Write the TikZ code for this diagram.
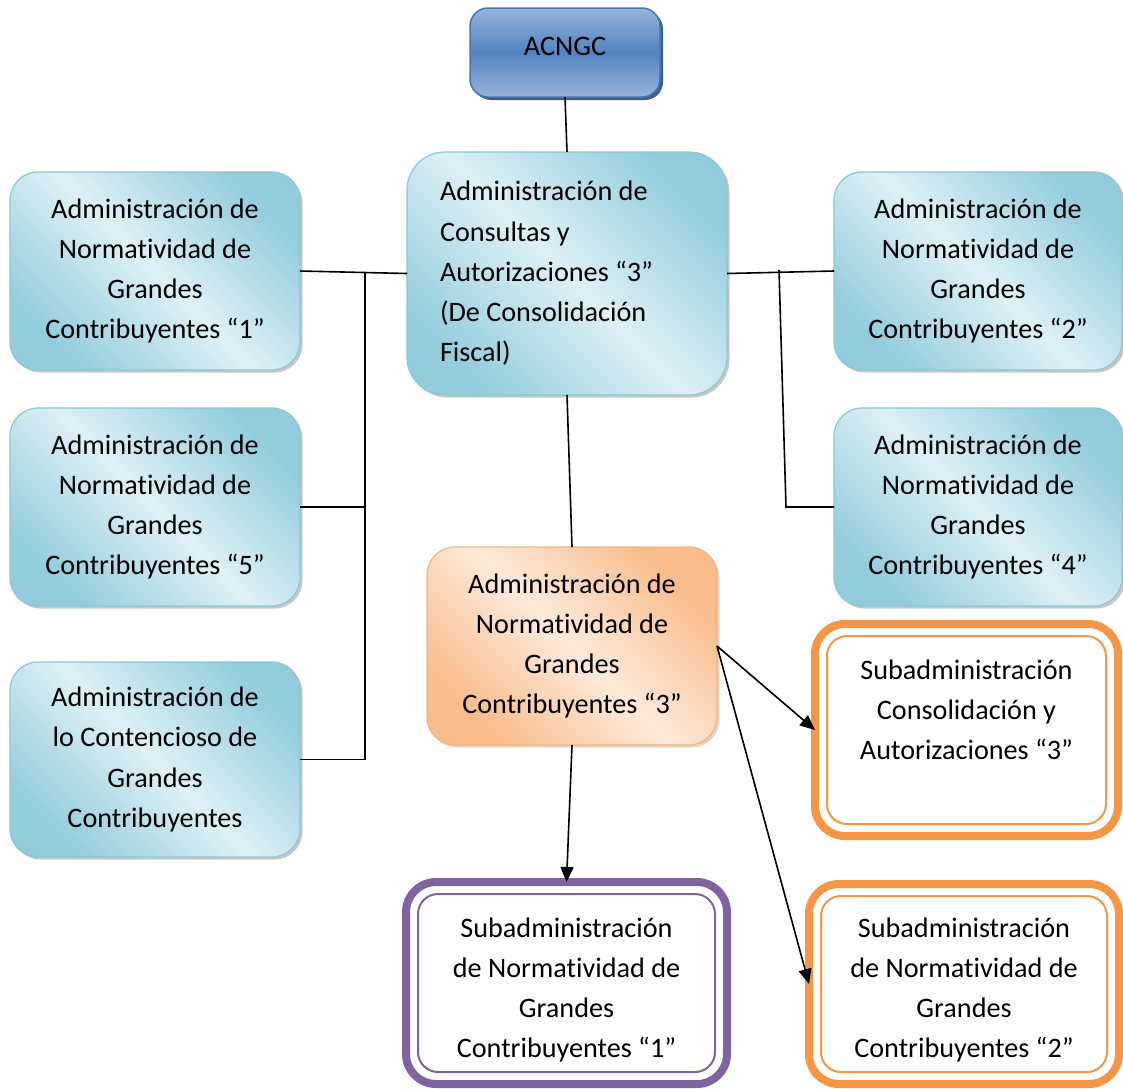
\documentclass[tikz,border=0pt]{standalone}
\usepackage{fontspec}
\setmainfont{Carlito}[Ligatures=NoCommon]
\usetikzlibrary{shadows,arrows.meta}

\definecolor{blueDark}{HTML}{93CDDD}
\definecolor{blueLight}{HTML}{DEF0F5}
\definecolor{blueEdge}{HTML}{8CC6D7}
\definecolor{orDark}{HTML}{F9BC8A}
\definecolor{orLight}{HTML}{FDEADB}
\definecolor{orEdge}{HTML}{F3B383}
\definecolor{topLight}{HTML}{97B3DA}
\definecolor{topMid}{HTML}{5283C0}
\definecolor{topEdge}{HTML}{4A76B0}
\definecolor{topShadow}{HTML}{2C4B78}
\definecolor{orangeLine}{HTML}{F79646}
\definecolor{purpleLine}{HTML}{8064A2}

\begin{document}
\begin{tikzpicture}[x=1pt,y=-1pt,
  font=\fontsize{28.2}{40.2}\selectfont,
  base/.style={align=center, inner sep=0pt, outer sep=0pt},
  bluebox/.style={base, rounded corners=28pt, draw=blueEdge, line width=1.2pt,
    top color=blueDark, bottom color=blueDark, middle color=blueLight, shading angle=-45,
    minimum width=290pt, minimum height=198pt,
    drop shadow={shadow xshift=2.5pt, shadow yshift=-2.5pt, fill=black!40, opacity=.55}},
  orbox/.style={base, rounded corners=28pt, draw=orEdge, line width=1.2pt,
    top color=orDark, bottom color=orDark, middle color=orLight, shading angle=-45,
    minimum width=290pt, minimum height=198pt,
    drop shadow={shadow xshift=2.5pt, shadow yshift=-2.5pt, fill=brown!60, opacity=.55}},
  topbox/.style={base, rounded corners=18pt, draw=topEdge, line width=1.5pt,
    top color=topLight, bottom color=topLight, middle color=topMid,
    minimum width=190pt, minimum height=89pt,
    drop shadow={shadow xshift=3pt, shadow yshift=-3pt, fill=topShadow, opacity=.9}},
  dblbox/.style={base, rounded corners=30pt, draw=#1, line width=8pt, fill=white},
  boxtext/.style={align=center, inner sep=0pt},
  link/.style={line width=1.6pt, draw=black},
  arr/.style={link, -{Triangle[length=15pt,width=13pt]}}
]
\useasboundingbox (0,0) rectangle (1123,1088);

% head of the chart
\node[topbox] (acn) at (565,52.5) {\raisebox{13pt}{ACNGC}};

% central administration
\node[bluebox, minimum width=320pt, minimum height=243pt, rounded corners=38pt,
      text width=254pt, align=flush left] (ct) at (567,273.5)
  {Administración de\\Consultas y\\Autorizaciones “3”\\(De Consolidación\\Fiscal)};

% left column
\node[bluebox] (l1) at (155,271)
  {Administración de\\Normatividad de\\Grandes\\Contribuyentes “1”};
\node[bluebox] (l5) at (155,507)
  {Administración de\\Normatividad de\\Grandes\\Contribuyentes “5”};
\node[bluebox, minimum height=195pt] (lc) at (155,759.5)
  {Administración de\\lo Contencioso de\\Grandes\\Contribuyentes};

% right column
\node[bluebox, minimum width=288pt] (r2) at (978,271)
  {Administración de\\Normatividad de\\Grandes\\Contribuyentes “2”};
\node[bluebox, minimum width=288pt] (r4) at (978,507)
  {Administración de\\Normatividad de\\Grandes\\Contribuyentes “4”};

% administration 3
\node[orbox] (or) at (572,646)
  {Administración de\\Normatividad de\\Grandes\\Contribuyentes “3”};

% sub-administrations
\node[dblbox=orangeLine, minimum width=303pt, minimum height=212pt] (sc) at (966.5,730)
  {Subadministración\\Consolidación y\\Autorizaciones “3”\\\mbox{}};
\node[dblbox=purpleLine, minimum width=321pt, minimum height=202pt,
      label={[boxtext, name=sp-text, yshift=-7pt]center:{Subadministración\\de Normatividad de\\Grandes\\Contribuyentes “1”}}]
  (sp) at (566.5,983) {};
\node[dblbox=orangeLine, minimum width=310pt, minimum height=200pt,
      label={[boxtext, name=so-text, yshift=-6pt]center:{Subadministración\\de Normatividad de\\Grandes\\Contribuyentes “2”}}]
  (so) at (964,984) {};

% inner rims of the double borders
\foreach \n/\c in {sc/orangeLine, sp/purpleLine, so/orangeLine}
  \draw[draw=\c, line width=2pt, rounded corners=20pt]
    ([shift={(12pt,-12pt)}]\n.north west) rectangle ([shift={(-12pt,12pt)}]\n.south east);

% connectors
\draw[link] (acn.south) -- (ct.north);
\draw[link] (l1.east) -- (ct.west);
\coordinate (jl) at (365,272);
\draw[link] (jl) |- (lc.east);
\draw[link] (jl |- l5.east) -- (l5.east);

\draw[link] (ct.east) -- (r2.west);
\coordinate (jr) at (779,270);
\coordinate (jr2) at (786,507);
\draw[link] (jr) -- (jr2) -- (r4.west);

\draw[link] (ct.south) -- (or.north);
\draw[arr] (or.south) -- (sp.north);
\draw[arr] (or.east) -- (sc.west);
\draw[arr] (or.east) -- (so.west);
\end{tikzpicture}
\end{document}
